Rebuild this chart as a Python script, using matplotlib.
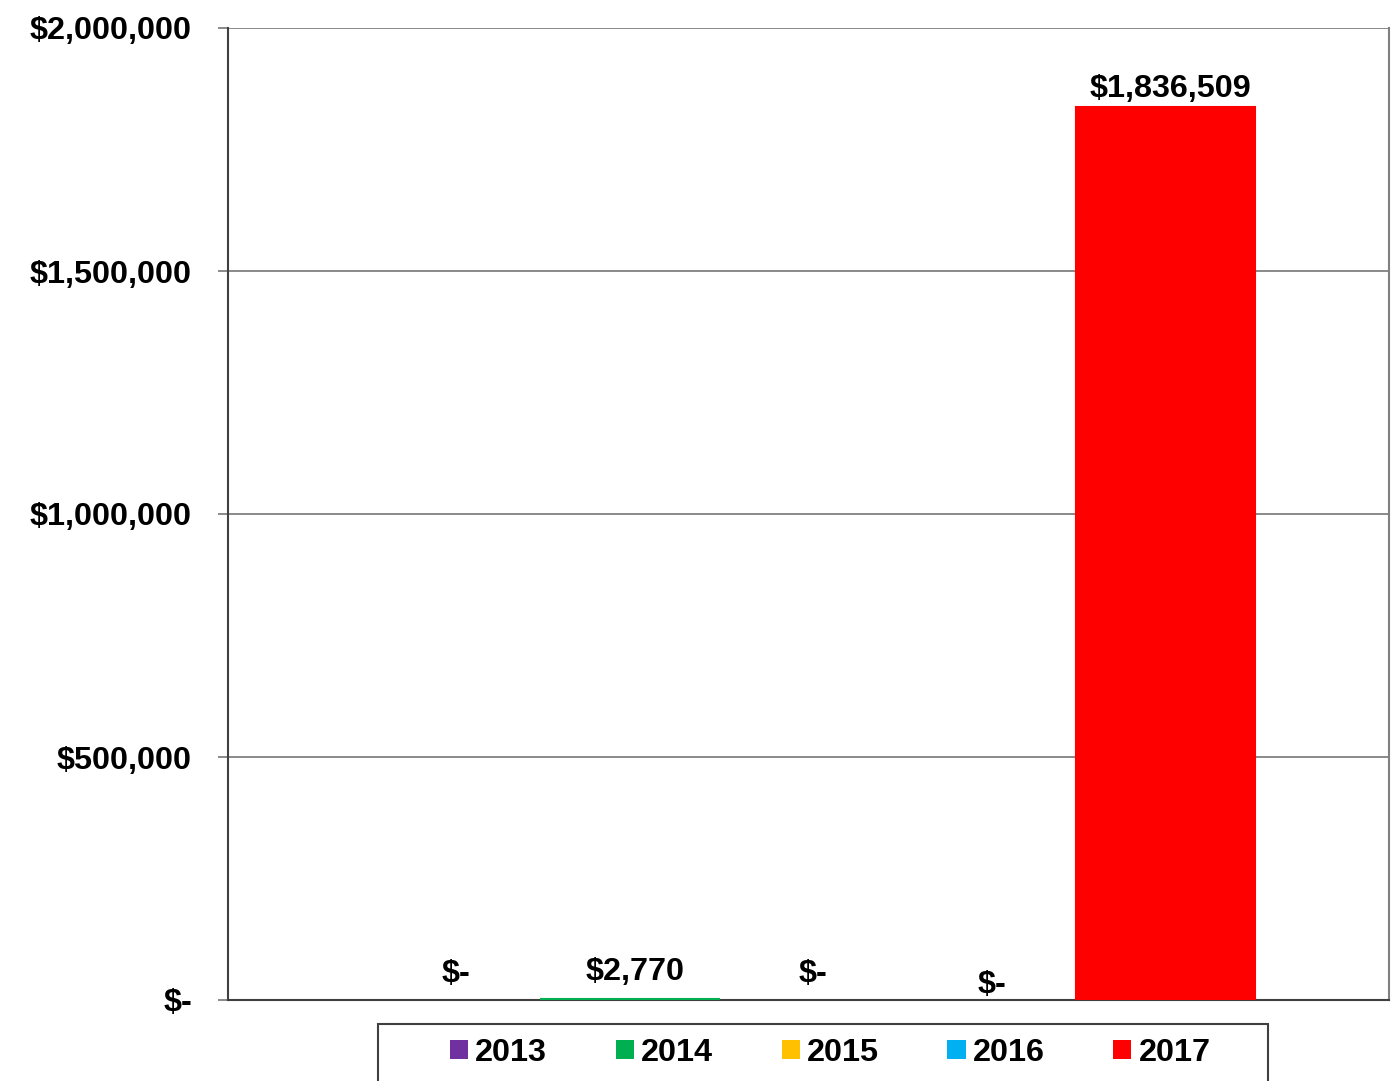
import matplotlib.pyplot as plt
import numpy as np
from matplotlib.ticker import FuncFormatter, MultipleLocator
from matplotlib.patches import Patch, Rectangle

plt.rcParams['font.family'] = ['Liberation Sans', 'DejaVu Sans']
plt.rcParams['font.weight'] = 'bold'

years = ['2013', '2014', '2015', '2016', '2017']
amounts = [0, 2770, 0, 0, 1836509]
colors = ['#7030A0', '#00B050', '#FFC000', '#00B0F0', '#FF0000']
# vertical offset (points) of each value label above its bar
label_offsets = [19, 19, 19, 11, 13]

FS = 23.3


def money(v):
    if v == 0:
        return '$-'
    return '${:,.0f}'.format(v)


fig = plt.figure(figsize=(13.94, 10.81), dpi=100)
ax = fig.add_axes([228 / 1394, 81 / 1081, 1161 / 1394, 972 / 1081])

x = np.arange(len(years))
# thin outline so the tiny 2014 bar shows on the baseline
lws = [1.5 if v > 0 else 0 for v in amounts]
ax.bar(x, amounts, width=1.0, color=colors, edgecolor=colors, linewidth=lws, zorder=3)

for xi, v, off in zip(x, amounts, label_offsets):
    ax.annotate(money(v), (xi, v), xytext=(3.5, off), textcoords='offset points',
                ha='center', va='center', fontsize=FS, fontweight='bold', zorder=4)

ax.set_xlim(-1.25, 5.25)
ax.set_ylim(0, 2000000)
ax.yaxis.set_major_locator(MultipleLocator(500000))
ax.yaxis.set_major_formatter(FuncFormatter(lambda v, p: money(v)))
ax.set_xticks([])

ax.grid(axis='y', color='#808080', linewidth=1.3, zorder=0)
ax.tick_params(axis='y', length=7, width=1.3, color='#808080', pad=19, labelsize=FS)
for lab in ax.get_yticklabels():
    lab.set_fontweight('bold')

ax.spines['top'].set_visible(False)
ax.spines['left'].set_color('#404040')
ax.spines['left'].set_linewidth(1.5)
ax.spines['bottom'].set_color('#404040')
ax.spines['bottom'].set_linewidth(1.5)
ax.spines['right'].set_color('#808080')
ax.spines['right'].set_linewidth(1.5)

# legend box
fig.patches.append(Rectangle((378 / 1394, -0.01), 890 / 1394, 0.01 + 57 / 1081,
                             transform=fig.transFigure, facecolor='white',
                             edgecolor='#404040', linewidth=1.5))

handles = [Patch(facecolor=c, edgecolor='none') for c in colors]
leg = fig.legend(handles, years, loc='center left', bbox_to_anchor=(450 / 1394, 1 - 1053 / 1081),
                 bbox_transform=fig.transFigure, ncol=5, fontsize=FS, frameon=False,
                 handlelength=0.56, handleheight=0.56, handletextpad=0.22,
                 columnspacing=2.12, borderpad=0, borderaxespad=0)
for t in leg.get_texts():
    t.set_fontweight('bold')

fig.savefig('out.png', dpi=100)
